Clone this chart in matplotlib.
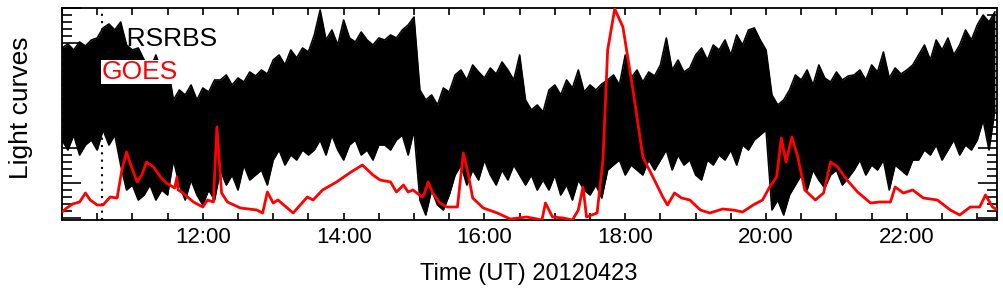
import numpy as np
import matplotlib.pyplot as plt
from matplotlib.ticker import MultipleLocator, FuncFormatter

plt.rcParams['font.family'] = ['Liberation Sans', 'DejaVu Sans']

# ARSRBS radio light curve: upper / lower envelope, one pair every 5 min from 10:00
arsrbs_start = 10.0
arsrbs_step_min = 5
arsrbs_hi = [172, 176, 170, 178, 174, 180, 182,
             192, 196, 190, 198, 175, 170, 172,
             160, 150, 165, 148, 155,
             120,
             130, 125, 135, 120, 132, 128, 140,
             140, 145, 135, 142, 138, 148, 144, 150, 146,
             160, 165, 155, 170, 162, 172, 168,
             185, 210, 180, 190, 175, 200, 182, 178, 188, 180, 175, 182,
             180, 185, 182, 190, 195, 203,
             130, 120, 125, 115, 132, 128,
             145, 150, 140, 155, 148, 142, 152, 146, 158, 150, 140, 165,
             120, 110, 115, 108,
             130, 135, 125, 140, 132, 150, 128, 135, 130, 136,
             140, 145, 135, 165, 142, 150, 138, 148, 144,
             155, 182, 150, 160, 148, 152,
             165, 172, 160, 175, 170, 180, 165, 185, 175, 190, 192, 180, 170,
             125, 115, 120, 130,
             145, 140, 150, 135, 155, 142, 138, 148, 140, 144,
             145, 150, 140, 155, 148, 168, 142, 152, 146, 150, 155,
             165, 175, 160, 180, 170, 182, 165, 175, 190, 180, 195,
             205, 198, 208]
arsrbs_lo = [80, 70, 85, 65, 75, 80, 70,
             90, 75, 85, 55, 30, 35, 20,
             25, 35, 20, 30, 25,
             60,
             35, 20, 40, 25, 15, 30, 20,
             50, 35, 45, 30, 55, 40, 45, 50, 35,
             60, 70, 55, 65, 60, 70, 65,
             70, 80, 65, 85, 70, 60, 75, 80, 65, 70, 60, 75,
             75, 70, 80, 85, 65, 90,
             20, 5, 30, 15, 10, 25,
             45, 55, 35, 50, 40, 60, 45, 35, 50, 40, 55, 45,
             35, 45, 30, 40,
             30, 45, 25, 35, 20, 40, 30, 25, 35, 22,
             50, 55, 60, 45, 55, 50, 45, 60, 50,
             60, 70, 50, 65, 55, 60,
             45, 40, 60, 55, 65, 60, 70, 55, 75, 70, 80, 85, 90,
             10, 20, 5, 25,
             35, 45, 30, 50, 40, 32, 45, 50, 35, 42,
             50, 60, 45, 55, 50, 60, 30, 55, 50, 45, 60,
             60, 70, 65, 75, 60, 70, 80, 65, 75, 70, 80,
             100, 70, 110]

# GOES X-ray flux (same arbitrary scale)
goes_time = ["10:00", "10:04", "10:09", "10:15", "10:20", "10:24", "10:30", "10:35",
             "10:41", "10:47", "10:51", "10:55", "10:58", "11:04", "11:08", "11:12",
             "11:18", "11:24", "11:29", "11:36", "11:38", "11:39", "11:43", "11:52",
             "12:00", "12:04", "12:09", "12:12", "12:16", "12:21", "12:32", "12:46",
             "12:51", "12:55", "13:00", "13:04", "13:12", "13:17", "13:29", "13:34",
             "13:42", "13:54", "14:05", "14:16", "14:25", "14:31", "14:40", "14:45",
             "14:51", "14:55", "14:59", "15:07", "15:09", "15:12", "15:16", "15:22",
             "15:28", "15:37", "15:42", "15:46", "15:50", "15:59", "16:11", "16:22",
             "16:36", "16:49", "16:52", "16:58", "17:07", "17:15", "17:20", "17:24",
             "17:27", "17:36", "17:41", "17:45", "17:51", "17:58", "18:07", "18:15",
             "18:24", "18:32", "18:36", "18:42", "18:48", "18:55", "19:04", "19:12",
             "19:23", "19:32", "19:40", "19:49", "19:57", "20:03", "20:09", "20:13",
             "20:17", "20:22", "20:27", "20:33", "20:42", "20:49", "20:55", "21:01",
             "21:09", "21:18", "21:29", "21:37", "21:46", "21:50", "21:57", "22:05",
             "22:14", "22:26", "22:37", "22:45", "22:54", "23:02", "23:07", "23:13",
             "23:17"]
goes_val = [8, 12, 16, 18, 27, 20, 15, 15,
            23, 22, 50, 68, 57, 38, 45, 58,
            53, 43, 37, 32, 43, 30, 27, 18,
            13, 20, 18, 93, 27, 18, 12, 10,
            7, 28, 17, 20, 12, 7, 23, 20,
            30, 38, 47, 55, 45, 40, 38, 28,
            35, 28, 30, 23, 27, 38, 27, 17,
            13, 13, 67, 47, 22, 12, 7, 1,
            3, 0, 17, 3, 2, 0, 10, 33,
            3, 7, 60, 170, 211, 193, 127, 63,
            42, 23, 15, 27, 22, 20, 10, 7,
            11, 10, 8, 15, 20, 33, 43, 82,
            58, 83, 63, 30, 20, 27, 58, 53,
            40, 28, 17, 18, 18, 33, 27, 30,
            22, 20, 10, 5, 13, 13, 25, 13,
            10]

marker_time = "10:34"   # dotted vertical line


def hours(s):
    h, m = s.split(':')
    return int(h) + int(m) / 60


t_ars = arsrbs_start + np.arange(len(arsrbs_hi)) * arsrbs_step_min / 60
t_goes = np.array([hours(s) for s in goes_time])

fig = plt.figure(figsize=(10.04, 2.96), dpi=100)
ax = fig.add_axes([62 / 1004, 76 / 296, 935 / 1004, 212 / 296])

ax.fill_between(t_ars, arsrbs_lo, arsrbs_hi, color='black', lw=0, zorder=2)
ax.plot(t_ars, arsrbs_hi, color='black', lw=1.2, zorder=2)
ax.plot(t_ars, arsrbs_lo, color='black', lw=1.2, zorder=2)
ax.plot(t_goes, goes_val, color='red', lw=2, zorder=4)
ax.axvline(hours(marker_time), color='black', ls=(0, (1, 2.5)), lw=1.5, zorder=3)

# legend as plain text
ax.text(0.051, 0.82, 'ARSRBS', transform=ax.transAxes, fontsize=19, zorder=1)
ax.text(0.042, 0.665, 'GOES', color='red', transform=ax.transAxes, fontsize=19, zorder=3,
        bbox=dict(fc='white', ec='none', pad=0))

ax.set_xlim(10, 23.28)
ax.set_ylim(0, 212)


def fmt_time(v, pos):
    hr = int(round(v))
    if abs(v - hr) < 1e-6 and hr % 2 == 0 and 11 < v < 23:
        return f'{hr:02d}:00'
    return ''


ax.xaxis.set_major_locator(MultipleLocator(0.5))
ax.xaxis.set_major_formatter(FuncFormatter(fmt_time))
ax.yaxis.set_major_locator(MultipleLocator(35, offset=2))
ax.yaxis.set_minor_locator(MultipleLocator(7, offset=2))
ax.yaxis.set_major_formatter(FuncFormatter(lambda v, p: ''))

ax.tick_params(axis='x', which='major', direction='in', top=True, bottom=True,
               length=5, width=1.2, labelsize=16, pad=5)
ax.tick_params(axis='y', which='major', direction='in', left=True, right=True,
               length=14, width=1.2)
ax.tick_params(axis='y', which='minor', direction='in', left=True, right=True,
               length=7, width=1.2)
for s in ax.spines.values():
    s.set_linewidth(1.3)

fig.text(529 / 1004, 1 - 274 / 296, 'Time (UT) 20120423', fontsize=17,
         ha='center', va='center')
fig.text(21 / 1004, 1 - 108 / 296, 'Light curves', fontsize=19, rotation=90,
         ha='center', va='center')

fig.savefig('out.png', dpi=100)
